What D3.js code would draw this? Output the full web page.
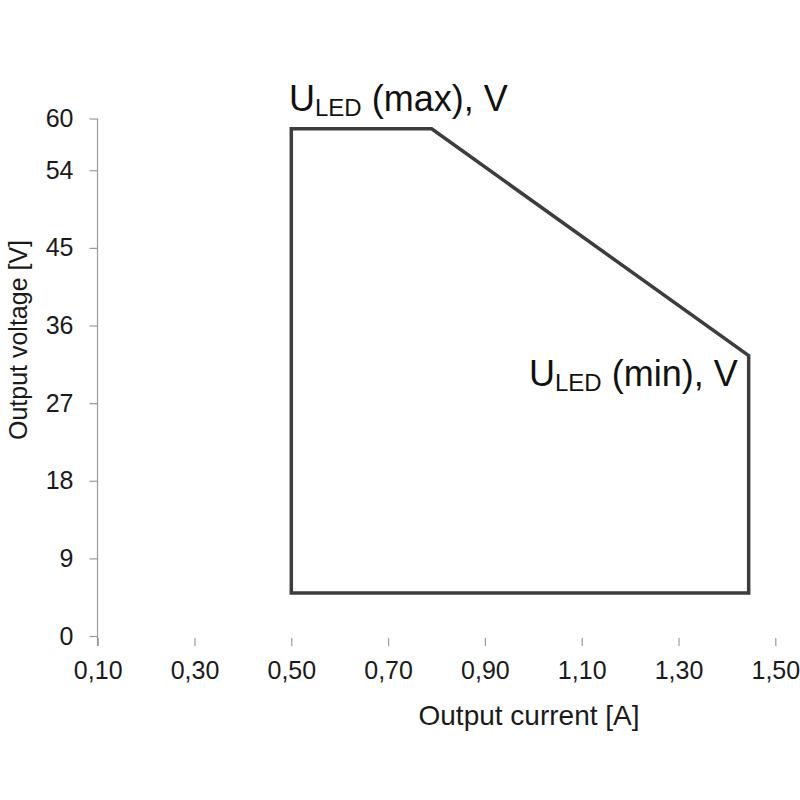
<!DOCTYPE html>
<html>
  <head>
    <title>Output range</title>
    <style>
      body { margin: 0; background: #fff; }
      svg { font-family: "Liberation Sans", Arial, sans-serif; }
    </style>
  </head>
  <body>
    <svg id="canvas" width="800" height="800"></svg>
    <script src="https://d3js.org/d3.v7.min.js"></script>
    <script>
      // operating window corners (current A, voltage V)
      var currents = [0.5, 0.5, 0.79, 1.445, 1.445];
      var voltages = [5, 58.8, 58.8, 32.5, 5];
      var xTicks = [0.1, 0.3, 0.5, 0.7, 0.9, 1.1, 1.3, 1.5];
      var yTicks = [0, 9, 18, 27, 36, 45, 54, 60];

      const svg = d3.select("#canvas");
      const x = d3.scaleLinear().domain([0.1, 1.5]).range([97.7, 775.3]);
      const y = d3.scaleLinear().domain([0, 60]).range([636, 118.5]);
      const fmt = d => d3.format(".2f")(d).replace(".", ",");
      const font = "Liberation Sans, Arial, sans-serif";

      // y axis: line + ticks to the left
      const yAxis = svg.append("g")
        .attr("transform", "translate(97.5,0)")
        .call(d3.axisLeft(y).tickValues(yTicks).tickSize(8).tickSizeOuter(0).tickPadding(16));
      yAxis.select(".domain").attr("stroke", "#9a9a9a").attr("stroke-width", 1.2)
        .attr("d", "M0," + y(60) + "V" + (y(0) + 10));
      yAxis.selectAll(".tick line").attr("stroke", "#9a9a9a").attr("stroke-width", 1.2);
      yAxis.selectAll(".tick text").attr("font-size", 25).attr("fill", "#1a1a1a").attr("font-family", font);

      // x axis: no line, ticks only
      const xAxis = svg.append("g")
        .attr("transform", "translate(0,638)")
        .call(d3.axisBottom(x).tickValues(xTicks).tickFormat(fmt).tickSize(8).tickPadding(15));
      xAxis.select(".domain").remove();
      xAxis.selectAll(".tick line").attr("stroke", "#9a9a9a").attr("stroke-width", 1.2);
      xAxis.selectAll(".tick text").attr("font-size", 25).attr("fill", "#1a1a1a").attr("font-family", font);

      // the window outline
      const pts = currents.map((c, i) => [x(c), y(voltages[i])]);
      svg.append("path")
        .attr("d", d3.line()(pts) + "Z")
        .attr("fill", "none")
        .attr("stroke", "#3d3d3d")
        .attr("stroke-width", 3.5)
        .attr("stroke-linejoin", "miter");

      // axis titles
      svg.append("text")
        .attr("x", 529).attr("y", 725)
        .attr("text-anchor", "middle")
        .attr("font-size", 28).attr("fill", "#1a1a1a")
        .text("Output current [A]");
      svg.append("text")
        .attr("transform", "translate(27,340) rotate(-90)")
        .attr("text-anchor", "middle")
        .attr("font-size", 25).attr("fill", "#1a1a1a")
        .text("Output voltage [V]");

      // corner labels
      function uLabel(px, py, tag) {
        const t = svg.append("text").attr("x", px).attr("y", py).attr("fill", "#111").attr("font-size", 36);
        t.append("tspan").text("U");
        t.append("tspan").attr("font-size", 24).attr("dy", 5).text("LED");
        t.append("tspan").attr("dy", -5).text(" (" + tag + "), V");
      }
      uLabel(289, 111, "max");
      uLabel(529, 386, "min");
    </script>
  </body>
</html>
